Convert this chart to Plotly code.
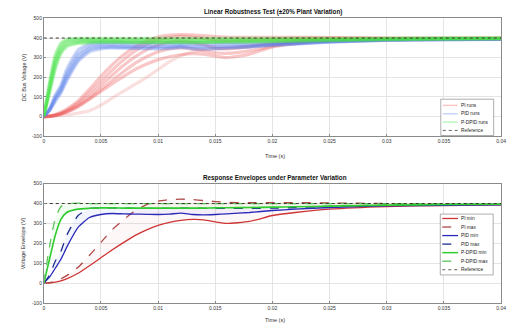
import plotly.graph_objects as go

W, H = 512, 328

# ---------------- data ----------------
t = [0, 0.0005, 0.001, 0.0015, 0.002, 0.003, 0.004, 0.005, 0.006, 0.007, 0.008, 0.009,
     0.01, 0.011, 0.012, 0.013, 0.014, 0.015, 0.016, 0.018, 0.02, 0.022, 0.025, 0.03, 0.035, 0.04]

pi_run1 = [0, 3, 10, 22, 38, 80, 140, 205, 265, 315, 355, 385, 405, 415, 418, 416, 412, 408, 405, 403, 404, 404, 402, 400, 400, 400]
pi_run2 = [0, 2, 8, 18, 32, 70, 122, 180, 238, 290, 335, 368, 390, 402, 408, 405, 398, 390, 385, 388, 395, 399, 400, 399, 399, 399]
pi_run3 = [0, 2, 7, 15, 27, 60, 105, 158, 212, 262, 305, 340, 365, 380, 385, 378, 365, 350, 345, 355, 372, 385, 393, 396, 397, 398]
pi_run4 = [0, 1, 6, 13, 24, 53, 92, 138, 185, 230, 272, 305, 330, 345, 350, 345, 335, 325, 322, 335, 358, 375, 388, 394, 396, 397]
pi_run5 = [0, 1, 5, 12, 22, 50, 88, 128, 168, 205, 240, 268, 290, 305, 315, 320, 318, 308, 300, 318, 355, 372, 385, 390, 393, 395]
pi_run6 = [0, 0, 2, 5, 9, 18, 30, 58, 95, 130, 165, 200, 240, 280, 310, 330, 340, 345, 350, 360, 375, 385, 392, 395, 397, 398]

pid_run1 = [0, 40, 110, 160, 240, 340, 372, 378, 378, 377, 376, 376, 376, 376, 377, 377, 376, 376, 376, 376, 377, 380, 386, 392, 395, 396]
pid_run2 = [0, 36, 100, 150, 220, 320, 360, 368, 368, 367, 366, 366, 366, 366, 368, 367, 366, 366, 367, 368, 372, 377, 384, 391, 394, 396]
pid_run3 = [0, 34, 92, 138, 205, 305, 350, 360, 360, 358, 357, 357, 357, 358, 360, 358, 357, 357, 358, 360, 366, 372, 381, 390, 393, 395]
pid_run4 = [0, 32, 85, 128, 192, 290, 340, 352, 354, 352, 350, 350, 350, 351, 355, 350, 348, 349, 351, 355, 362, 369, 379, 389, 392, 394]
pid_run5 = [0, 30, 75, 120, 180, 280, 330, 345, 350, 348, 347, 346, 345, 347, 352, 345, 343, 345, 348, 355, 365, 372, 380, 388, 391, 393]

pdpid_run1 = [0, 175, 315, 375, 393, 398, 398, 398, 398, 398, 398, 398, 398, 398, 398, 398, 398, 398, 398, 398, 398, 398, 399, 399, 400, 400]
pdpid_run2 = [0, 160, 295, 360, 385, 392, 392, 392, 391, 391, 391, 391, 391, 391, 391, 391, 391, 391, 391, 392, 393, 394, 395, 397, 398, 399]
pdpid_run3 = [0, 145, 275, 345, 375, 385, 386, 386, 385, 385, 385, 385, 385, 385, 385, 385, 385, 385, 386, 387, 388, 390, 392, 395, 397, 398]
pdpid_run4 = [0, 130, 258, 332, 365, 378, 380, 380, 380, 380, 379, 379, 379, 379, 379, 379, 379, 380, 381, 382, 384, 386, 389, 393, 396, 397]
pdpid_run5 = [0, 120, 240, 320, 355, 372, 376, 378, 378, 377, 377, 377, 377, 377, 377, 377, 377, 378, 379, 380, 382, 384, 387, 392, 395, 397]

pi_min = [0, 1, 5, 12, 22, 50, 88, 128, 168, 205, 240, 268, 290, 305, 315, 320, 318, 308, 300, 310, 340, 355, 372, 385, 390, 393]
pi_max = [0, 3, 10, 22, 38, 80, 140, 205, 270, 320, 365, 395, 412, 420, 422, 420, 415, 410, 406, 404, 405, 405, 403, 400, 400, 400]
pid_min = [0, 30, 75, 120, 180, 280, 330, 345, 350, 348, 347, 346, 345, 347, 352, 345, 343, 345, 348, 355, 365, 372, 380, 388, 391, 393]
pid_max = [0, 40, 110, 160, 240, 340, 375, 378, 378, 377, 376, 376, 376, 376, 377, 377, 376, 376, 376, 376, 377, 380, 386, 392, 395, 396]
pdpid_min = [0, 120, 240, 320, 355, 372, 376, 378, 378, 377, 377, 377, 377, 377, 377, 377, 377, 378, 379, 380, 382, 384, 387, 392, 395, 397]
pdpid_max = [0, 185, 325, 385, 398, 402, 400, 400, 400, 400, 400, 400, 400, 400, 400, 400, 400, 400, 400, 400, 400, 400, 400, 400, 400, 400]

ref_t = [0, 0.04]
ref_v = [400, 400]

x_ticks = [0, 0.005, 0.01, 0.015, 0.02, 0.025, 0.03, 0.035, 0.04]
x_ticktext = ["0", "0.005", "0.01", "0.015", "0.02", "0.025", "0.03", "0.035", "0.04"]
y_ticks = [-100, 0, 100, 200, 300, 400, 500]
y_ticktext = ["-100", "0", "100", "200", "300", "400", "500"]

top_title = "Linear Robustness Test (±20% Plant Variation)"
bot_title = "Response Envelopes under Parameter Variation"
top_ylabel = "DC Bus Voltage (V)"
bot_ylabel = "Voltage Envelope (V)"
xlabel = "Time (s)"

top_legend = ["PI runs", "PID runs", "P-DPID runs", "Reference"]
bot_legend = ["PI min", "PI max", "PID min", "PID max", "P-DPID min", "P-DPID max", "Reference"]

# ---------------- styles ----------------
RED_RUN = "rgba(238,85,85,0.33)"
BLUE_RUN = "rgba(85,125,235,0.33)"
GREEN_RUN = "rgba(70,225,70,0.38)"
PALE_RUN = "rgba(240,150,150,0.30)"
REF_COL = "#3a3a2a"

C_PI_MIN = "#cf3535"
C_PI_MAX = "#b04848"
C_PID_MIN = "#2a2ab8"
C_PID_MAX = "#1a2f8c"
C_PD_MIN = "#2ecc2e"
C_PD_MAX = "#5cc45c"

FONT = "Liberation Sans, Arial, sans-serif"


def px(x):
    return x / W


def py(y):
    return 1 - y / H


fig = go.Figure()

# top runs
for run, col in [(pi_run6, PALE_RUN), (pi_run1, RED_RUN), (pi_run2, RED_RUN), (pi_run3, RED_RUN),
                 (pi_run4, RED_RUN), (pi_run5, RED_RUN),
                 (pid_run1, BLUE_RUN), (pid_run2, BLUE_RUN), (pid_run3, BLUE_RUN),
                 (pid_run4, BLUE_RUN), (pid_run5, BLUE_RUN),
                 (pdpid_run1, GREEN_RUN), (pdpid_run2, GREEN_RUN), (pdpid_run3, GREEN_RUN),
                 (pdpid_run4, GREEN_RUN), (pdpid_run5, GREEN_RUN)]:
    fig.add_trace(go.Scatter(x=t, y=run, mode="lines", xaxis="x", yaxis="y",
                             line=dict(color=col, width=3.2, shape="spline", smoothing=0.5),
                             showlegend=False, hoverinfo="skip"))
fig.add_trace(go.Scatter(x=ref_t, y=ref_v, mode="lines", xaxis="x", yaxis="y",
                         line=dict(color=REF_COL, width=1, dash="dot"),
                         showlegend=False, hoverinfo="skip"))

# bottom envelope fills
for lo, hi, fc in [(pi_min, pi_max, "rgba(235,90,90,0.05)"),
                   (pid_min, pid_max, "rgba(90,110,235,0.07)"),
                   (pdpid_min, pdpid_max, "rgba(70,220,70,0.07)")]:
    fig.add_trace(go.Scatter(x=t, y=hi, mode="lines", xaxis="x2", yaxis="y2",
                             line=dict(width=0, shape="spline", smoothing=0.5),
                             showlegend=False, hoverinfo="skip"))
    fig.add_trace(go.Scatter(x=t, y=lo, mode="lines", xaxis="x2", yaxis="y2",
                             line=dict(width=0, shape="spline", smoothing=0.5),
                             fill="tonexty", fillcolor=fc,
                             showlegend=False, hoverinfo="skip"))

bottom_lines = [
    (pi_min, C_PI_MIN, "solid", 1.3),
    (pi_max, C_PI_MAX, "dash", 1.3),
    (pid_min, C_PID_MIN, "solid", 1.3),
    (pid_max, C_PID_MAX, "dash", 1.3),
    (pdpid_min, C_PD_MIN, "solid", 1.6),
    (pdpid_max, C_PD_MAX, "dash", 1.3),
]
for ys, col, dash, w in bottom_lines:
    fig.add_trace(go.Scatter(x=t, y=ys, mode="lines", xaxis="x2", yaxis="y2",
                             line=dict(color=col, width=w, dash=dash, shape="spline", smoothing=0.5),
                             showlegend=False, hoverinfo="skip"))
fig.add_trace(go.Scatter(x=ref_t, y=ref_v, mode="lines", xaxis="x2", yaxis="y2",
                         line=dict(color=REF_COL, width=1, dash="dot"),
                         showlegend=False, hoverinfo="skip"))

axis_common = dict(showgrid=True, gridcolor="#e4e4e4", gridwidth=0.6, zeroline=False,
                   showline=True, linecolor="#8a8a8a", linewidth=0.7, mirror=True,
                   ticks="inside", ticklen=2, tickcolor="#8a8a8a",
                   tickfont=dict(size=5, color="#333333", family=FONT))

xdom = [px(43.3), px(506)]
fig.update_layout(
    width=W, height=H, margin=dict(l=0, r=0, t=0, b=0),
    paper_bgcolor="white", plot_bgcolor="white", showlegend=False,
    font=dict(family=FONT, size=5, color="#333333"),
    xaxis=dict(domain=xdom, range=[0, 0.04], tickvals=x_ticks, ticktext=x_ticktext,
               anchor="y", **axis_common),
    yaxis=dict(domain=[py(135.7), py(15.7)], range=[-100, 500], tickvals=y_ticks,
               ticktext=y_ticktext, anchor="x", **axis_common),
    xaxis2=dict(domain=xdom, range=[0, 0.04], tickvals=x_ticks, ticktext=x_ticktext,
                anchor="y2", **axis_common),
    yaxis2=dict(domain=[py(305.7), py(184)], range=[-100, 500], tickvals=y_ticks,
                ticktext=y_ticktext, anchor="x2", **axis_common),
)

ann = []
shapes = []
# titles
ann.append(dict(text="<b>" + top_title + "</b>", x=px(275), y=py(9), xref="paper", yref="paper",
                yanchor="middle", showarrow=False, font=dict(size=6.3, color="#111111", family=FONT)))
ann.append(dict(text="<b>" + bot_title + "</b>", x=px(277), y=py(178.5), xref="paper", yref="paper",
                yanchor="middle", showarrow=False, font=dict(size=6.3, color="#111111", family=FONT)))
# axis labels
ann.append(dict(text=xlabel, x=px(277), y=py(155.5), xref="paper", yref="paper", yanchor="middle",
                showarrow=False, font=dict(size=5.5, color="#333333", family=FONT)))
ann.append(dict(text=xlabel, x=px(277), y=py(322.5), xref="paper", yref="paper", yanchor="middle",
                showarrow=False, font=dict(size=5.5, color="#333333", family=FONT)))
ann.append(dict(text=top_ylabel, x=px(23), y=py(76), xref="paper", yref="paper", textangle=-90,
                xanchor="center", yanchor="middle",
                showarrow=False, font=dict(size=5.5, color="#333333", family=FONT)))
ann.append(dict(text=bot_ylabel, x=px(22), y=py(245), xref="paper", yref="paper", textangle=-90,
                xanchor="center", yanchor="middle",
                showarrow=False, font=dict(size=5.5, color="#333333", family=FONT)))

# top legend box
shapes.append(dict(type="rect", xref="paper", yref="paper", x0=px(445), x1=px(498.5),
                   y0=py(135), y1=py(98), fillcolor="white", line=dict(color="#777777", width=0.6)))
top_leg_style = [(RED_RUN, "solid", 1.5), (BLUE_RUN, "solid", 1.5), (GREEN_RUN, "solid", 1.5),
                 (REF_COL, "dot", 0.8)]
for i, (lab, (col, dash, w)) in enumerate(zip(top_legend, top_leg_style)):
    yy = 104.3 + i * 8.5
    shapes.append(dict(type="line", xref="paper", yref="paper", x0=px(447), x1=px(462),
                       y0=py(yy), y1=py(yy), line=dict(color=col, width=w, dash=dash)))
    ann.append(dict(text=lab, x=px(464.5), y=py(yy), xref="paper", yref="paper",
                    xanchor="left", yanchor="middle", borderpad=0,
                    showarrow=False, font=dict(size=4.8, color="#222222", family=FONT)))

# bottom legend box
shapes.append(dict(type="rect", xref="paper", yref="paper", x0=px(444.5), x1=px(498),
                   y0=py(277), y1=py(215), fillcolor="white", line=dict(color="#777777", width=0.6)))
bot_leg_style = [(C_PI_MIN, "solid", 1.3), (C_PI_MAX, "dash", 1.3), (C_PID_MIN, "solid", 1.3),
                 (C_PID_MAX, "dash", 1.3), (C_PD_MIN, "solid", 1.5), (C_PD_MAX, "dash", 1.3),
                 (REF_COL, "dot", 0.8)]
for i, (lab, (col, dash, w)) in enumerate(zip(bot_legend, bot_leg_style)):
    yy = 219.5 + i * 8.7
    shapes.append(dict(type="line", xref="paper", yref="paper", x0=px(446.5), x1=px(462.5),
                       y0=py(yy), y1=py(yy), line=dict(color=col, width=w, dash=dash)))
    ann.append(dict(text=lab, x=px(464.5), y=py(yy), xref="paper", yref="paper",
                    xanchor="left", yanchor="middle", borderpad=0,
                    showarrow=False, font=dict(size=4.8, color="#222222", family=FONT)))

fig.update_layout(annotations=ann, shapes=shapes)

fig.write_html("out.html")
